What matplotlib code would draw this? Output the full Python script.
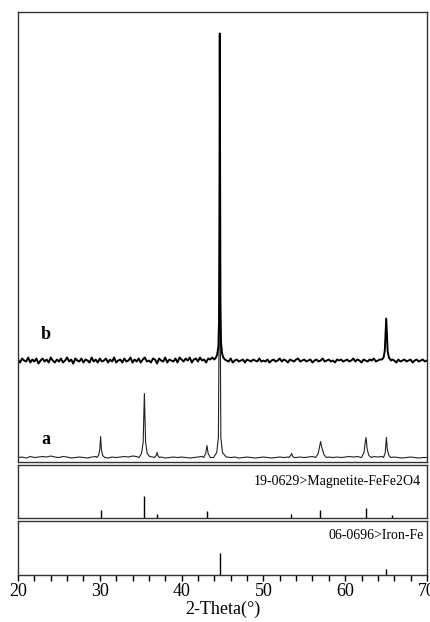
import numpy as np
import matplotlib.pyplot as plt

plt.rcParams['font.family'] = ['Liberation Serif', 'DejaVu Serif']

# ---------------- data (intensity in arbitrary units) ----------------
# sample a : baseline wiggle every 0.5 deg from 20 to 70
a_base = 4.0
a_step = 0.5
a_noise = [0, 0.5, -0.5, 1, 0, 0.5, 1, 0.5, 1.5, 0.5,
           0, 1, 0.5, -0.5, 0, 0.5, 0, -0.5, 0.5, 1,
           0.5, 0, -0.5, 0.5, 0, 0.5, 1, 0.5, 1.5, 1,
           1, 1.5, 1, 0.5, 0, 0.5, -0.5, 0, 0.5, 0,
           0.5, 0, -0.5, 0, 0.5, 1, 0.5, 1, 1.5, 2,
           1, 0.5, 0, 0.5, -0.5, 0, 0.5, 0, -0.5, 0,
           0.5, 0, -0.5, 0, 0.5, 0, 0.5, 1, 0, 0.5,
           0, 0.5, 1, 1, 0.5, 1, 0.5, 0, 0.5, 0,
           0.5, 1, 0.5, 1, 1.5, 1, 0.5, 1, 0.5, 1,
           0.5, 0, 0.5, 0, -0.5, 0, 0.5, 0, -0.5, 0,
           0]
a_peaks = [
    [(29.6, 0), (29.85, 2), (30.0, 8), (30.1, 21), (30.2, 8), (30.35, 2), (30.6, 0)],
    [(34.8, 0), (35.1, 4), (35.3, 15), (35.45, 64), (35.6, 15), (35.8, 4), (36.1, 1)],
    [(36.7, 0), (36.9, 2), (37.0, 5), (37.1, 2), (37.3, 0)],
    [(42.7, 0), (42.95, 4), (43.1, 12), (43.25, 4), (43.5, 0)],
    [(43.9, 0), (44.3, 5), (44.5, 20), (44.6, 150), (44.65, 304), (44.72, 150),
     (44.8, 20), (45.0, 5), (45.4, 1)],
    [(53.1, 0), (53.35, 2), (53.45, 4), (53.6, 1), (53.8, 0)],
    [(56.4, 0), (56.7, 4), (56.9, 12), (57.0, 16), (57.15, 10), (57.4, 3), (57.7, 0)],
    [(62.0, 0), (62.3, 5), (62.45, 15), (62.55, 20), (62.7, 8), (62.9, 2), (63.2, 0)],
    [(64.7, 0), (64.9, 5), (65.0, 16), (65.05, 20), (65.15, 8), (65.35, 2), (65.6, 0)],
]

# sample b : noisier baseline every 0.25 deg
b_base = 101.0
b_step = 0.25
b_noise = [1, -2, 2, 0, -1, 3, -2, 1, -1, 2, -3, 0, 2, -1, 1, -2, 3, 0, -2, 1,
           -1, 2, -2, 0, 3, -1, 1, -3, 2, 0, -1, 2, -2, 1, 0, -2, 3, -1, 1, -2,
           2, -1, 0, 2, -2, 1, -1, 3, -2, 0, 1, -2, 2, -1, 0, 3, -2, 1, -1, 2,
           -2, 1, 3, -1, 0, -2, 2, 1, -3, 2, 0, -1, 3, -2, 1, 0, -1, 2, -2, 3,
           1, -1, 2, 0, 3, -2, 1, 2, -1, 3, 0, 1, -2, 2, 1, 3, 0, 2, 1, 2,
           -1, 1, 0, -1, 2, -2, 0, 1, -1, 0, 1, -2, 1, 0, -1, 1, 0, -1, 2, -1,
           0, -1, 1, -2, 0, 1, -1, 0, 2, -1, 1, 0, -2, 1, 0, -1, 1, 2, -1, 0,
           1, -1, 0, 1, -2, 0, 1, -1, 0, 2, -1, 0, 1, -1, 0, -2, 1, 0, 1, -1,
           0, 1, -1, 0, 2, -1, 1, 0, -2, 1, 0, -1, 1, 0, 2, -1, 0, 1, 2, 3,
           1, 0, -1, 1, 0, -2, 1, -1, 0, 1, -1, 0, 1, -2, 0, 1, -1, 0, 1, -1,
           0]
b_peaks = [
    [(44.0, 1), (44.2, 3), (44.35, 6), (44.5, 14), (44.58, 40), (44.63, 140),
     (44.67, 327), (44.71, 200), (44.75, 60), (44.82, 18), (44.95, 7), (45.1, 3),
     (45.3, 1), (45.5, 0)],
    [(64.5, 1), (64.7, 3), (64.85, 10), (64.95, 30), (65.02, 42), (65.1, 28),
     (65.2, 9), (65.35, 3), (65.6, 0)],
]

# reference cards
mag_pos = [30.1, 35.45, 37.05, 43.05, 53.4, 56.95, 62.5, 65.75]
mag_int = [36, 100, 18, 32, 18, 36, 45, 14]
fe_pos = [44.67, 65.02]
fe_int = [100, 27]


def build(base, step, noise, peaks):
    xs = 20 + step * np.arange(len(noise))
    pts = []
    for x, n in zip(xs, noise):
        if any(p[0][0] <= x <= p[-1][0] for p in peaks):
            continue
        pts.append((x, base + n))
    for p in peaks:
        for x, h in p:
            pts.append((x, base + h))
    pts.sort()
    return np.array(pts).T


ax_x, ay = build(a_base, a_step, a_noise, a_peaks)
bx, by = build(b_base, b_step, b_noise, b_peaks)

# ---------------- figure ----------------
fig = plt.figure(figsize=(4.3, 6.22), dpi=100)
ax1 = fig.add_axes([0.0419, 0.258, 0.951, 0.7227])
ax2 = fig.add_axes([0.0419, 0.1672, 0.951, 0.0852])
ax3 = fig.add_axes([0.0419, 0.0756, 0.951, 0.0868])

ax1.plot(ax_x, ay, color='#222222', lw=0.8)
ax1.plot(bx, by, color='black', lw=1.4)
ax1.text(23.35, 22.5, 'a', fontsize=13, fontweight='bold', ha='center', va='center')
ax1.text(23.35, 127.5, 'b', fontsize=13, fontweight='bold', ha='center', va='center')
ax1.set_ylim(0, 449.5)

ax2.vlines(mag_pos, 0, mag_int, color='black', lw=1.0)
ax2.set_ylim(0, 240)
ax2.text(0.985, 0.68, '19-0629>Magnetite-FeFe2O4', transform=ax2.transAxes,
         ha='right', va='center', fontsize=10)

ax3.vlines(fe_pos, 0, fe_int, color='black', lw=1.0)
ax3.set_ylim(0, 245)
ax3.text(0.993, 0.74, '06-0696>Iron-Fe', transform=ax3.transAxes,
         ha='right', va='center', fontsize=10)

for ax in (ax1, ax2, ax3):
    ax.set_xlim(20, 70)
    ax.set_yticks([])
    for s in ax.spines.values():
        s.set_color('#333333')
        s.set_linewidth(1.0)
    if ax is not ax3:
        ax.set_xticks([])

ax3.set_xticks([20, 30, 40, 50, 60, 70])
ax3.set_xticks(np.arange(20, 71, 2), minor=True)
ax3.tick_params(axis='x', which='both', direction='out', length=4, width=1,
                labelsize=13, pad=2)
ax3.set_xlabel('2-Theta(°)', fontsize=13, labelpad=0)

fig.savefig('out.png', dpi=100)
